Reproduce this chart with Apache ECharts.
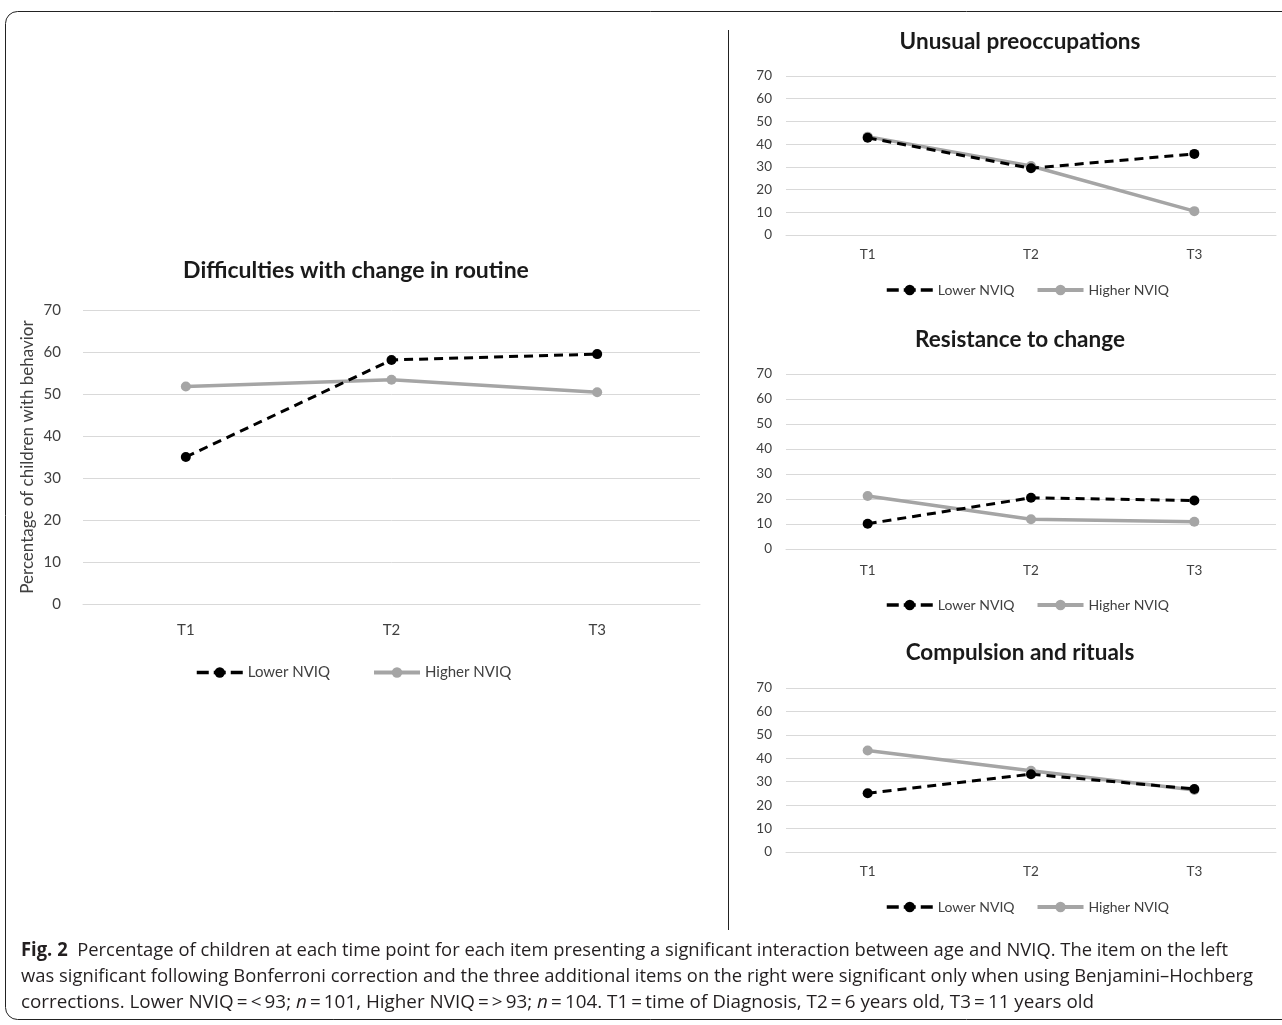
<!DOCTYPE html>
<html><head><meta charset="utf-8">
<script src="https://cdn.jsdelivr.net/npm/echarts@6/dist/echarts.min.js"></script>
<style>html,body{margin:0;padding:0;background:#fff}#c{width:1282px;height:1025px}</style>
</head><body><div id="c"></div>
<script>
const categories = ['T1','T2','T3'];
const yTicks = [0,10,20,30,40,50,60,70];
const seriesNames = ['Lower NVIQ','Higher NVIQ'];
const titles = ['Difficulties with change in routine','Unusual preoccupations','Resistance to change','Compulsion and rituals'];
const routineLower = [35, 58.1, 59.5];
const routineHigher = [51.8, 53.4, 50.4];
const preoccLower = [42.8, 29.4, 35.7];
const preoccHigher = [43.3, 30.4, 10.5];
const resistLower = [10.1, 20.5, 19.4];
const resistHigher = [21.2, 11.9, 10.9];
const compulsLower = [25.1, 33.2, 26.9];
const compulsHigher = [43.3, 34.7, 26.5];
const yAxisName = 'Percentage of children with behavior';
const captionLines = [
  [{b:'Fig. 2'},{t:'  Percentage of children at each time point for each item presenting a significant interaction between age and NVIQ. The item on the left'}],
  [{t:'was significant following Bonferroni correction and the three additional items on the right were significant only when using Benjamini\u2013Hochberg'}],
  [{t:'corrections. Lower NVIQ\u2009=\u2009<\u200993; '},{i:'n'},{t:'\u2009=\u2009101, Higher NVIQ\u2009=\u2009>\u200993; '},{i:'n'},{t:'\u2009=\u2009104. T1\u2009=\u2009time of Diagnosis, T2\u2009=\u20096 years old, T3\u2009=\u200911 years old'}]
];

const FONT = 'Lato, "Open Sans", sans-serif';
const chart = echarts.init(document.getElementById('c'), null, {renderer:'canvas'});

const panels = [
  {lower: routineLower, higher: routineHigher, grid:{left:83, width:617, top:310, height:294}, labelSize:15, xMargin:19, legendTop:660, legendLeft:190, legendGap:42, titleX:351, titleY:254, titleSize:23, yName:true},
  {lower: preoccLower, higher: preoccHigher, grid:{left:786, width:490, top:76, height:159}, labelSize:13.5, xMargin:13, legendTop:278, legendLeft:880, legendGap:21, titleX:1015, titleY:25, titleSize:22.5},
  {lower: resistLower, higher: resistHigher, grid:{left:786, width:490, top:374, height:175}, labelSize:13.5, xMargin:15, legendTop:593, legendLeft:880, legendGap:21, titleX:1015, titleY:323, titleSize:22.5},
  {lower: compulsLower, higher: compulsHigher, grid:{left:786, width:490, top:688, height:164}, labelSize:13.5, xMargin:13, legendTop:895, legendLeft:880, legendGap:21, titleX:1015, titleY:636, titleSize:22.5}
];

const grids=[], xAxes=[], yAxes=[], series=[], legends=[], titleArr=[];
panels.forEach((p,i)=>{
  grids.push(Object.assign({containLabel:false}, p.grid));
  xAxes.push({type:'category', gridIndex:i, data:categories, boundaryGap:true,
    axisLine:{show:true, lineStyle:{color:'#d9d9d9', width:1}}, axisTick:{show:false},
    axisLabel:{color:'#404040', fontSize:p.labelSize, fontFamily:FONT, margin:p.xMargin}});
  yAxes.push({type:'value', gridIndex:i, min:yTicks[0], max:yTicks[yTicks.length-1], interval:10,
    axisLine:{show:false}, axisTick:{show:false},
    splitLine:{lineStyle:{color:'#d9d9d9', width:1}},
    axisLabel:{color:'#404040', fontSize:p.labelSize, fontFamily:FONT, margin:p.yName?22:14},
    name: p.yName ? yAxisName : '', nameLocation:'middle', nameGap:47, nameRotate:90,
    nameTextStyle:{color:'#404040', fontSize:17, fontFamily:FONT}});
  series.push({name:seriesNames[0], type:'line', xAxisIndex:i, yAxisIndex:i, data:p.lower,
    symbol:'circle', symbolSize:10, itemStyle:{color:'#000'},
    lineStyle:{color:'#000', width:3, type:[9,6]}, z:3, animation:false});
  series.push({name:seriesNames[1], type:'line', xAxisIndex:i, yAxisIndex:i, data:p.higher,
    symbol:'circle', symbolSize:10, itemStyle:{color:'#a5a5a5'},
    lineStyle:{color:'#a5a5a5', width:3.5}, z:2, animation:false});
  legends.push({data:[
      {name:seriesNames[0], lineStyle:{width:3.5, type:[12,5]}},
      {name:seriesNames[1], lineStyle:{width:4}}
    ], left:p.legendLeft, top:p.legendTop, itemWidth:46, itemHeight:13, itemGap:p.legendGap,
    textStyle:{color:'#404040', fontSize:p.yName?15:14, fontFamily:FONT}, selectedMode:false});
  titleArr.push({text:titles[i], left:p.titleX, top:p.titleY, textAlign:'center',
    textStyle:{fontSize:p.titleSize, fontWeight:'bold', color:'#1a1a1a', fontFamily:FONT}});
});

// caption graphic
const CFONT = '"Open Sans", "Noto Sans", sans-serif';
const CSIZE = 19;
const targets = [1207, 1232, 1073];
const cvs = document.createElement('canvas').getContext('2d');
function measure(parts){
  let w=0;
  parts.forEach(pt=>{
    if(pt.b){cvs.font='bold '+CSIZE+'px '+CFONT; w+=cvs.measureText(pt.b).width;}
    else if(pt.i){cvs.font='italic '+CSIZE+'px '+CFONT; w+=cvs.measureText(pt.i).width;}
    else {cvs.font=CSIZE+'px '+CFONT; w+=cvs.measureText(pt.t).width;}
  });
  return w;
}
const graphics = [
  {type:'rect', shape:{x:5.5, y:11.5, width:1300, height:1008, r:12}, style:{fill:null, stroke:'#222', lineWidth:1}, silent:true, z:-10},
  {type:'line', shape:{x1:728.5, y1:30, x2:728.5, y2:930}, style:{stroke:'#222', lineWidth:1}, silent:true}
];
const ys=[951,977,1003];
captionLines.forEach((parts,k)=>{
  const w = measure(parts);
  const sx = targets[k]/w;
  let txt=''; 
  parts.forEach(pt=>{
    if(pt.b) txt+='{b|'+pt.b+'}';
    else if(pt.i) txt+='{i|'+pt.i+'}';
    else txt+='{n|'+pt.t+'}';
  });
  graphics.push({type:'text', x:21, y:ys[k], scaleX:sx, scaleY:1, silent:true,
    style:{text:txt, verticalAlign:'middle', align:'left',
      rich:{
        n:{fontSize:CSIZE, fontFamily:CFONT, fill:'#231f20', color:'#231f20'},
        b:{fontSize:CSIZE, fontFamily:CFONT, fontWeight:'bold', fill:'#231f20', color:'#231f20'},
        i:{fontSize:CSIZE, fontFamily:CFONT, fontStyle:'italic', fill:'#231f20', color:'#231f20'}
      }}});
});

chart.setOption({
  animation:false,
  backgroundColor:'#fff',
  title:titleArr, grid:grids, xAxis:xAxes, yAxis:yAxes, series:series, legend:legends,
  graphic:graphics
});
</script></body></html>
